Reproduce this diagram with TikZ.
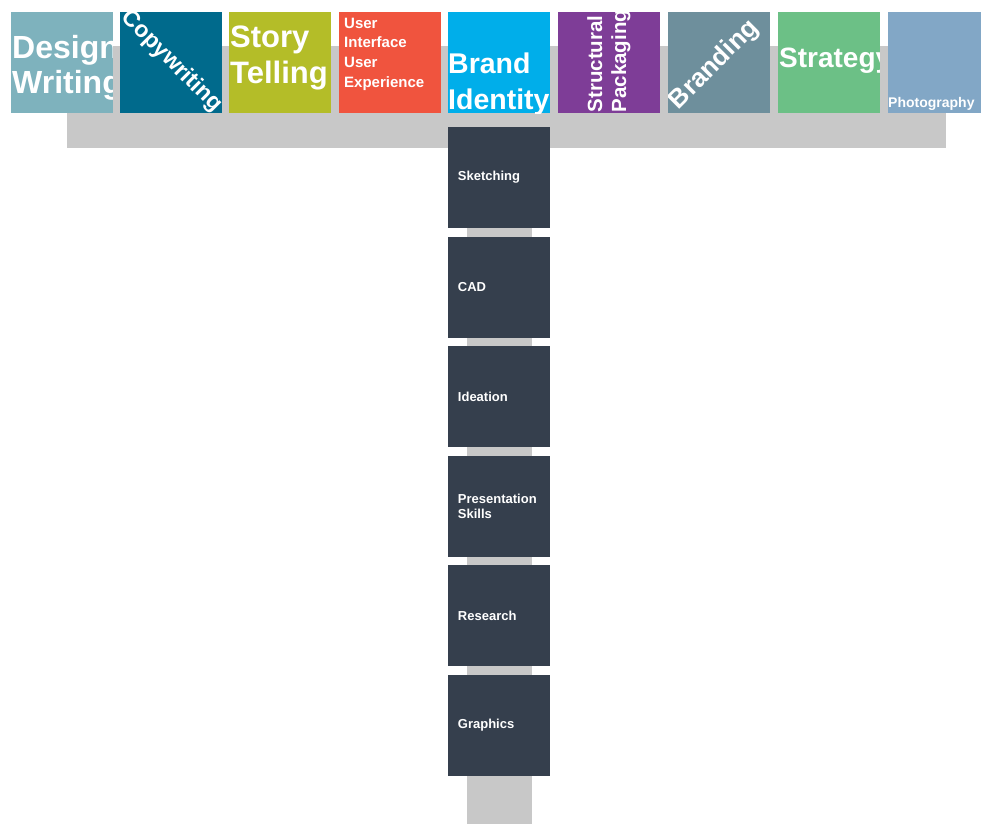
\documentclass[tikz,border=0pt]{standalone}
\usepackage{fontspec}
\setmainfont{Liberation Sans}
\newcommand\setfs[2]{\fontsize{#1}{#2}\selectfont}
\definecolor{cDesign}{RGB}{126,178,189}
\definecolor{cCopy}{RGB}{0,106,140}
\definecolor{cStory}{RGB}{180,189,40}
\definecolor{cUx}{RGB}{240,84,62}
\definecolor{cBrandId}{RGB}{0,174,234}
\definecolor{cPack}{RGB}{126,61,151}
\definecolor{cBranding}{RGB}{110,143,156}
\definecolor{cStrategy}{RGB}{108,192,134}
\definecolor{cPhoto}{RGB}{130,167,198}
\definecolor{rail}{RGB}{200,200,200}
\definecolor{slate}{RGB}{53,63,77}
\begin{document}
\begin{tikzpicture}[x=1pt,y=-1pt,
  tile/.style={minimum width=101.5pt,minimum height=101pt,inner sep=0pt,outer sep=0pt,draw=none},
  skill/.style={tile,fill=slate},
  lbl/.style={text=white,inner sep=0pt,align=left},
  skilltxt/.style={lbl,anchor=west,font=\bfseries\setfs{13}{15}}]
\clip (0,0) rectangle (981,823);
\fill[white] (0,0) rectangle (981,823);

% horizontal rail and vertical stem
\fill[rail] (67,46) rectangle (946,148);
\coordinate (stemtop) at (499.5,148);
\coordinate (stembot) at (499.5,830);
\draw[rail,line width=65pt] (stemtop) -- (stembot);

% top row of discipline tiles
\node[tile,fill=cDesign]   (design)   at (62,62.5) {};
\node[tile,fill=cCopy]     (copy)     at (171,62.5) {};
\node[tile,fill=cStory]    (story)    at (280,62.5) {};
\node[tile,fill=cUx]       (ux)       at (390,62.5) {};
\node[tile,fill=cBrandId]  (brandid)  at (499,62.5) {};
\node[tile,fill=cPack]     (pack)     at (609,62.5) {};
\node[tile,fill=cBranding] (branding) at (719,62.5) {};
\node[tile,fill=cStrategy] (strategy) at (829,62.5) {};
\node[tile,fill=cPhoto]    (photo)    at (939,62.5) {};

% tile labels, each kept inside its tile
\begin{scope}
  \clip (design.north west) rectangle (design.south east);
  \node[lbl,anchor=base west,font=\bfseries\setfs{32}{35}] (designtxt) at (12,93) {Design\\Writing};
\end{scope}
\begin{scope}
  \clip (copy.north west) rectangle (copy.south east);
  \node[lbl,rotate=-45,font=\bfseries\setfs{23}{26}] (copytxt) at (171.5,61.5) {Copywriting};
\end{scope}
\begin{scope}
  \clip (story.north west) rectangle (story.south east);
  \node[lbl,anchor=base west,font=\bfseries\setfs{31}{36}] (storytxt) at (230,83) {Story\\Telling};
\end{scope}
\begin{scope}
  \clip (ux.north west) rectangle (ux.south east);
  \node[lbl,anchor=base west,font=\bfseries\setfs{15}{19.6}] (uxtxt) at (344,87) {User\\Interface\\User\\Experience};
\end{scope}
\begin{scope}
  \clip (brandid.north west) rectangle (brandid.south east);
  \node[lbl,anchor=base west,font=\bfseries\setfs{28.5}{36.5}] (brandidtxt) at (448,109.5) {Brand\\Identity};
\end{scope}
\begin{scope}
  \clip (pack.north west) rectangle (pack.south east);
  \node[lbl,rotate=90,anchor=base west,font=\bfseries\setfs{20.5}{24}] (packtxt) at (626,112.5) {Structural\\Packaging};
\end{scope}
\begin{scope}
  \clip (branding.north west) rectangle (branding.south east);
  \node[lbl,rotate=45,font=\bfseries\setfs{26}{29}] (brandingtxt) at (714.5,65) {Branding};
\end{scope}
\begin{scope}
  \clip (strategy.north west) rectangle (strategy.south east);
  \node[lbl,anchor=base west,font=\bfseries\setfs{28}{32}] (strategytxt) at (779,67) {Strategy};
\end{scope}
\begin{scope}
  \clip (photo.north west) rectangle (photo.south east);
  \node[lbl,anchor=base west,font=\bfseries\setfs{14}{16}] (phototxt) at (888,107) {Photography};
\end{scope}

% column of skill tiles
\node[skill] (sketch) at (499,177.5) {};
\node[skill] (cad)    at (499,287) {};
\node[skill] (idea)   at (499,396.5) {};
\node[skill] (pres)   at (499,506) {};
\node[skill] (res)    at (499,615.5) {};
\node[skill] (graph)  at (499,725) {};

\node[skilltxt] at ([xshift=9.5pt]sketch.west) {Sketching};
\node[skilltxt] at ([xshift=9.5pt]cad.west) {CAD};
\node[skilltxt] at ([xshift=9.5pt]idea.west) {Ideation};
\node[skilltxt] at ([xshift=9.5pt]pres.west) {Presentation\\Skills};
\node[skilltxt] at ([xshift=9.5pt]res.west) {Research};
\node[skilltxt] at ([xshift=9.5pt]graph.west) {Graphics};
\end{tikzpicture}
\end{document}
